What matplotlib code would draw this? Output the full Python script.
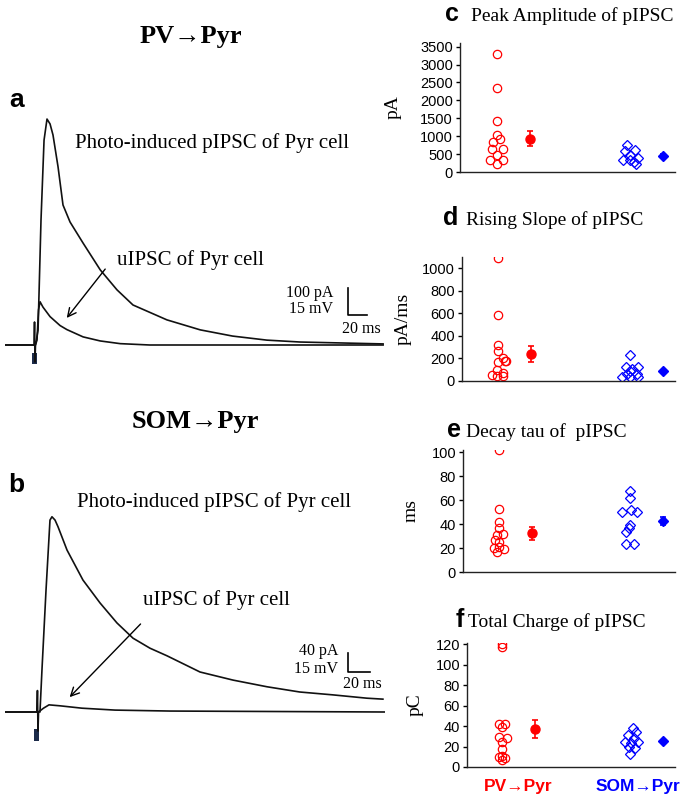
import matplotlib
matplotlib.use('Agg')
import matplotlib.pyplot as plt
from matplotlib.patches import Rectangle

W, H = 685, 799
SANS = ['Liberation Sans', 'DejaVu Sans']
SERIF = ['Liberation Serif', 'DejaVu Serif']
RED, BLUE, NAVY = '#ff0000', '#0000ff', '#1c2b4a'

# panel a traces: time (ms), current (pA)
a_p_t = [0, 32, 34.7, 37.8, 41, 44.1, 47.3, 50.4, 55.7, 60.9, 68.3, 82, 100, 117.6, 134.4, 170, 205, 239, 275, 310, 397]
a_p_i = [0, 0, 55, 462, 758, 836, 818, 777, 659, 518, 455, 377, 278, 204, 148, 93, 56, 33, 18, 11, 4]
a_u_t = [0, 29, 30.5, 31, 31.5, 32, 33.6, 35.2, 36.8, 39.9, 47.3, 57.8, 65, 82, 100, 121, 152, 397]
a_u_i = [0, 0, 0, 85, -63, 0, 18, 130, 160, 140, 105, 72, 57, 30, 15, 5, 0, 0]

# panel b traces
b_p_t = [0, 31.8, 33.6, 37.3, 40.9, 42.7, 45.5, 48.2, 56.4, 70.9, 86.4, 101.8, 116.4, 131.8, 147.3, 177.3, 207.3, 238.2, 268, 298, 329, 343.6]
b_p_i = [0, 0, 88, 256, 403, 410, 403, 389, 340, 277, 229, 187, 155, 134, 118, 84, 67, 53, 42, 36, 29, 27]
b_u_t = [0, 28, 29, 29.5, 30, 30.5, 35, 40, 50, 70, 100, 150, 345]
b_u_i = [0, 0, 0, 45, -40, 0, 8, 15, 13, 8, 4, 2, 0]

groups = ['PV\u2192Pyr', 'SOM\u2192Pyr']

# panel c: peak amplitude (pA)
c_pv = [3290, 2340, 1430, 1040, 920, 850, 650, 650, 465, 345, 345, 225]
c_som = [742, 610, 585, 470, 395, 340, 330, 270, 225]
c_mean = [930, 460]
c_sem = [215, 30]
# panel d: rising slope (pA/ms)
d_pv = [1088, 588, 320, 270, 205, 180, 168, 175, 94, 70, 50, 45, 45]
d_som = [232, 124, 124, 110, 90, 62, 62, 35, 35, 35]
d_mean = [240, 85]
d_sem = [70, 12]
# panel e: decay tau (ms)
e_pv = [102, 53, 42, 37, 32, 31, 27, 25, 21, 20, 19, 17]
e_som = [68, 62, 50, 52, 50, 39.4, 36.6, 33.5, 23.7, 23.7]
e_mean = [32.5, 42.7]
e_sem = [5.5, 3.5]
# panel f: total charge (pC)
f_pv = [120, 117, 42, 42, 39, 29, 28, 24, 18, 11, 10, 9, 7]
f_som = [37.6, 34, 31, 28, 24, 24, 23, 20, 19, 13]
f_mean = [37, 25]
f_sem = [9, 1.5]

# horizontal scatter of the individual cells (x units)
c_pv_dx = [0, 0, 0, 0, .15, -.15, -.23, .3, 0, -.3, .3, 0]
c_som_dx = [-.15, .22, -.22, 0, .38, -.34, 0, .18, .27]
d_pv_dx = [0, 0, 0, 0, .22, .38, 0, .3, -.08, .22, -.3, -.08, .22]
d_som_dx = [0, -.22, .38, .08, 0, -.15, .3, -.38, 0, .38]
e_pv_dx = [0, 0, 0, 0, .2, -.08, -.2, 0, 0, -.22, .22, -.08]
e_som_dx = [0, 0, -.38, .03, .3, 0, -.08, -.22, -.22, .18]
f_pv_dx = [0, 0, -.18, .12, 0, -.18, .22, 0, 0, 0, -.18, .12, 0]
f_som_dx = [.08, .22, -.15, .15, -.3, .3, 0, -.12, .18, -.08]

PV_X, PV_MEAN_X, SOM_X, SOM_MEAN_X = 1.7, 3.26, 7.9, 9.44


def axes_px(fig, left, top, right, bottom):
    return fig.add_axes([left / W, 1 - bottom / H, (right - left) / W, (bottom - top) / H])


def ftext(fig, x, y, s, **kw):
    fig.text(x / W, 1 - y / H, s, **kw)


fig = plt.figure(figsize=(W / 100, H / 100), dpi=100)

# ---------------- traces ----------------
def trace_panel(box, xlim, ylim, p, u, stim, bar, arrow):
    ax = axes_px(fig, *box)
    ax.plot(u[0], u[1], color='#111111', lw=1.2)
    ax.plot(p[0], p[1], color='#111111', lw=1.2)
    ax.add_patch(Rectangle((stim[0], stim[1]), stim[2], stim[3], color=NAVY, lw=0))
    bx, by, bt, bi = bar
    ax.plot([bx, bx, bx + bt], [by + bi, by, by], color='k', lw=1.2)
    ax.annotate('', xy=arrow[0], xytext=arrow[1],
                arrowprops=dict(arrowstyle='->,head_length=0.6,head_width=0.3', lw=1.0, color='k'))
    ax.set_xlim(*xlim)
    ax.set_ylim(*ylim)
    ax.axis('off')
    return ax


trace_panel((5, 100, 385, 370), (0, 399), (-92.5, 906.5),
            (a_p_t, a_p_i), (a_u_t, a_u_i),
            (28.5, -70, 5, 40), (360, 111, 20, 100),
            ((63, 92), (107, 289)))
trace_panel((5, 480, 385, 750), (0, 345.5), (-79.8, 487.2),
            (b_p_t, b_p_i), (b_u_t, b_u_i),
            (26.5, -60, 4.5, 25), (311.8, 84, 20, 40),
            ((57, 27), (125, 189)))

ftext(fig, 191, 43, 'PV\u2192Pyr', family=SERIF, fontweight='bold', fontsize=19, ha='center', va='baseline')
ftext(fig, 195, 428, 'SOM\u2192Pyr', family=SERIF, fontweight='bold', fontsize=19, ha='center', va='baseline')
ftext(fig, 9, 107, 'a', family=SANS, fontweight='bold', fontsize=19, va='baseline')
ftext(fig, 8, 492, 'b', family=SANS, fontweight='bold', fontsize=19, va='baseline')
ftext(fig, 75, 148, 'Photo-induced pIPSC of Pyr cell', family=SERIF, fontsize=15, va='baseline')
ftext(fig, 117, 265, 'uIPSC of Pyr cell', family=SERIF, fontsize=15, va='baseline')
ftext(fig, 77, 507, 'Photo-induced pIPSC of Pyr cell', family=SERIF, fontsize=15, va='baseline')
ftext(fig, 143, 605, 'uIPSC of Pyr cell', family=SERIF, fontsize=15, va='baseline')
for x, y, s, ha in [(333, 297, '100 pA', 'right'), (333, 313, '15 mV', 'right'), (342, 333, '20 ms', 'left'),
                    (338, 655, '40 pA', 'right'), (338, 673, '15 mV', 'right'), (343, 688, '20 ms', 'left')]:
    ftext(fig, x, y, s, family=SERIF, fontsize=11.5, ha=ha, va='baseline')

# ---------------- scatter panels ----------------
def dot_panel(box, pv, pv_dx, som, som_dx, mean, sem, ylim, yticks, ylabel, label_x,
              letter, title, title_y, letter_x, title_x, xlabels=False):
    ax = axes_px(fig, *box)
    ax.plot([PV_X + d for d in pv_dx], pv, 'o', ms=6, mfc='none', mec=RED, mew=0.9)
    ax.plot([SOM_X + d for d in som_dx], som, 'D', ms=5, mfc='none', mec=BLUE, mew=0.9)
    ax.errorbar([PV_MEAN_X], [mean[0]], yerr=[sem[0]], fmt='o', ms=6.5, color=RED,
                ecolor=RED, elinewidth=1.2, capsize=2.5, capthick=1.2)
    ax.errorbar([SOM_MEAN_X], [mean[1]], yerr=[sem[1]], fmt='D', ms=4.6, color=BLUE,
                ecolor=BLUE, elinewidth=1.2, capsize=2.5, capthick=1.2)
    ax.set_xlim(0, 10)
    ax.set_ylim(*ylim)
    ax.set_yticks(yticks)
    for s in ('top', 'right'):
        ax.spines[s].set_visible(False)
    for s in ('left', 'bottom'):
        ax.spines[s].set_linewidth(1.0)
        ax.spines[s].set_color('#222222')
    ax.tick_params(axis='y', length=3, width=1.0, pad=2, labelsize=10.5)
    for t in ax.get_yticklabels():
        t.set_family(SANS)
    if xlabels:
        ax.set_xticks([2.45, 8.2])
        ax.set_xticklabels(groups)
        ax.tick_params(axis='x', length=0, pad=9)
        for t, c in zip(ax.get_xticklabels(), (RED, BLUE)):
            t.set_color(c)
            t.set_family(SANS)
            t.set_fontweight('bold')
            t.set_fontsize(12.5)
    else:
        ax.set_xticks([])
    ax.set_ylabel(ylabel, family=SERIF, fontsize=14)
    ax.yaxis.set_label_coords((label_x + 7 - box[0]) / (box[2] - box[0]), 0.5)
    ftext(fig, letter_x, title_y, letter, family=SANS, fontweight='bold', fontsize=18, ha='right', va='baseline')
    ftext(fig, title_x, title_y, title, family=SERIF, fontsize=14, va='baseline')
    return ax


dot_panel((460, 43, 675, 172), c_pv, c_pv_dx, c_som, c_som_dx, c_mean, c_sem,
          (0, 3600), range(0, 3501, 500), 'pA', 395, 'c', 'Peak Amplitude of pIPSC', 21, 459, 471)
dot_panel((462, 257, 675, 381), d_pv, d_pv_dx, d_som, d_som_dx, d_mean, d_sem,
          (0, 1100), range(0, 1001, 200), 'pA/ms', 405, 'd', 'Rising Slope of pIPSC', 225, 458, 466)
dot_panel((463, 450, 675, 572), e_pv, e_pv_dx, e_som, e_som_dx, e_mean, e_sem,
          (0, 102), range(0, 101, 20), 'ms', 413, 'e', 'Decay tau of  pIPSC', 437, 461, 466)
dot_panel((467, 643, 675, 767), f_pv, f_pv_dx, f_som, f_som_dx, f_mean, f_sem,
          (0, 121), range(0, 121, 20), 'pC', 417, 'f', 'Total Charge of pIPSC', 627, 464, 468, xlabels=True)

fig.savefig('out.png', dpi=100)
